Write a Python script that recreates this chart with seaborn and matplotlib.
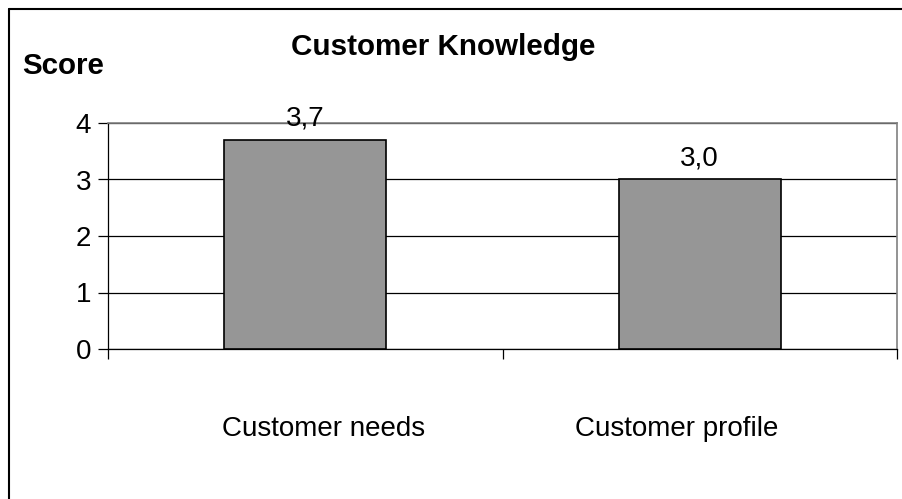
import matplotlib
matplotlib.use("Agg")
import matplotlib.pyplot as plt
import matplotlib.transforms as mtransforms
from matplotlib.lines import Line2D
import seaborn as sns
import pandas as pd

categories = ["Customer needs", "Customer profile"]
scores = [3.7, 3.0]
value_labels = ["3,7", "3,0"]
y_ticks = [0, 1, 2, 3, 4]

sns.set_theme(style="white")
plt.rcParams["font.family"] = ["Liberation Sans", "DejaVu Sans"]
plt.rcParams["text.color"] = "black"
plt.rcParams["xtick.color"] = "black"
plt.rcParams["ytick.color"] = "black"
plt.rcParams["axes.labelcolor"] = "black"

W, H = 902, 499
fig = plt.figure(figsize=(W / 100, H / 100), dpi=100)
ax = fig.add_axes([108 / W, 1 - 349 / H, (897 - 108) / W, (349 - 123) / H])

df = pd.DataFrame({"category": categories, "score": scores})
sns.barplot(data=df, x="category", y="score", ax=ax, color="#969696",
            saturation=1, width=0.41, edgecolor="black", linewidth=1.2, zorder=3)

ax.set_xlim(-0.5, 1.5)
ax.set_ylim(0, 4)
ax.set_yticks(y_ticks)
ax.set_yticklabels([str(t) for t in y_ticks], fontsize=20)
ax.yaxis.grid(True, color="black", linewidth=0.9)
ax.set_axisbelow(True)
ax.set_xlabel("")
ax.set_ylabel("")

# category boundary ticks
ax.set_xticks([-0.5, 0.5, 1.5])
ax.set_xticklabels(["", "", ""])
ax.set_xticks([0, 1], minor=True)
ax.set_xticklabels(categories, minor=True, fontsize=20)
ax.tick_params(axis="x", which="minor", length=0, pad=48)
ax.tick_params(axis="x", which="major", length=7, width=0.9, color="black", direction="out", bottom=True)
ax.tick_params(axis="y", length=7, width=0.9, color="black", direction="out", left=True, pad=5)
offsets = [18, -23]
for lab, dx in zip(ax.get_xticklabels(minor=True), offsets):
    lab.set_transform(lab.get_transform() + mtransforms.ScaledTranslation(dx / 100, 0, fig.dpi_scale_trans))

for side in ["left", "bottom"]:
    ax.spines[side].set_color("black")
    ax.spines[side].set_linewidth(0.9)
for side in ["top", "right"]:
    ax.spines[side].set_color("#808080")
    ax.spines[side].set_linewidth(1.2)

for i, (v, lbl) in enumerate(zip(scores, value_labels)):
    ax.annotate(lbl, (i, v), xytext=(0, 6), textcoords="offset points",
                ha="center", va="bottom", fontsize=20, color="black", zorder=5)

fig.text(443 / W, 1 - 47 / H, "Customer Knowledge", ha="center", va="center",
         fontsize=21.3, fontweight="bold", color="black")
fig.text(22 / W, 1 - 66 / H, "Score", ha="left", va="center",
         fontsize=21.3, fontweight="bold", color="black")

# outer frame (left and top edges)
fig.add_artist(Line2D([8.5 / W, 8.5 / W], [0, 1 - 8.5 / H], transform=fig.transFigure, color="black", linewidth=1.5))
fig.add_artist(Line2D([8.5 / W, 1], [1 - 8.5 / H, 1 - 8.5 / H], transform=fig.transFigure, color="black", linewidth=1.5))

fig.savefig("out.png", dpi=100, facecolor="white")
